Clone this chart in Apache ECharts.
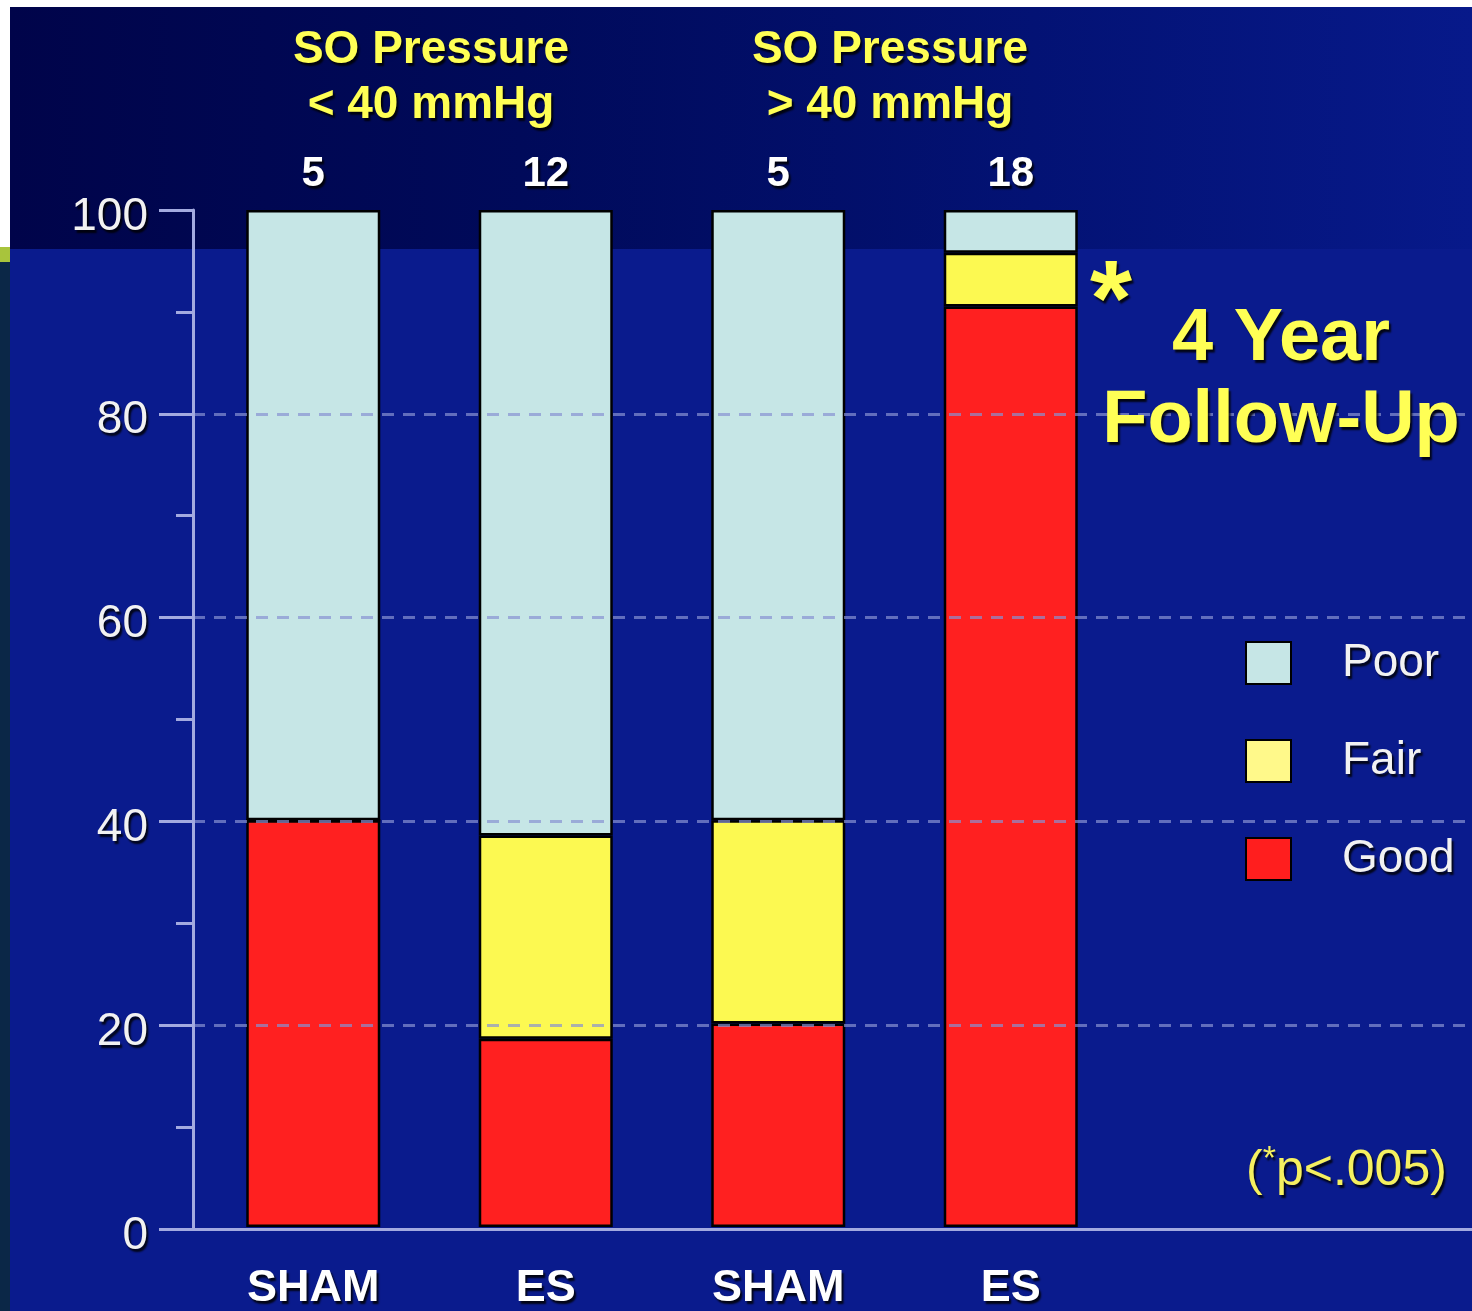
<!DOCTYPE html>
<html>
<head>
<meta charset="utf-8">
<script src="https://cdn.jsdelivr.net/npm/echarts@6/dist/echarts.min.js"></script>
<style>
html,body{margin:0;padding:0;background:#fff;}
#chart{width:1472px;height:1311px;}
</style>
</head>
<body>
<div id="chart"></div>
<script>
// ---- data ----
const categories = ['SHAM', 'ES', 'SHAM', 'ES'];
const groupSizes = ['5', '12', '5', '18'];
const good = [40, 18.5, 20, 90.5];
const fair = [0, 20, 20, 5.3];
const poor = [60, 61.5, 60, 4.2];
const seriesNames = ['Poor', 'Fair', 'Good'];
const groupTitles = ['SO Pressure\n< 40 mmHg', 'SO Pressure\n> 40 mmHg'];
const yMin = 0, yMax = 100, yInterval = 20;

// ---- styles ----
const FF = '"Liberation Sans", Arial, sans-serif';
const axisColor = '#A3AAE0';
const shadow = { textShadowColor: 'rgba(0,0,0,0.85)', textShadowBlur: 2, textShadowOffsetX: 2, textShadowOffsetY: 3 };
const colors = { Good: '#FF2020', Fair: '#FCF951', Poor: '#C6E6E6' };
const legendColors = { Good: '#FF1E1E', Fair: '#FFF98A', Poor: '#C6E6E6' };

const chart = echarts.init(document.getElementById('chart'));

function txt(x, y, text, size, color, weight, extra) {
  return Object.assign({
    type: 'text', x: x, y: y, z: 50,
    style: Object.assign({
      text: text, fill: color, font: weight + ' ' + size + 'px ' + FF,
      align: 'center', verticalAlign: 'middle'
    }, shadow, extra || {})
  });
}

const option = {
  backgroundColor: '#ffffff',
  animation: false,
  graphic: {
    elements: [
      { type: 'rect', z: -10, shape: { x: 10, y: 7, width: 1462, height: 243 },
        style: { fill: new echarts.graphic.LinearGradient(0, 0, 1, 0, [
          { offset: 0, color: '#00044A' }, { offset: 0.35, color: '#000A5A' },
          { offset: 0.7, color: '#031274' }, { offset: 1, color: '#07198A' }]) } },
      { type: 'rect', z: -10, shape: { x: 10, y: 249, width: 1462, height: 1062 }, style: { fill: '#0A1B8D' } },
      { type: 'rect', z: -10, shape: { x: 0, y: 247, width: 10, height: 15 }, style: { fill: '#A8C43C' } },
      { type: 'rect', z: -10, shape: { x: 0, y: 262, width: 10, height: 1049 }, style: { fill: '#0B2747' } },
      txt(431, 50, groupTitles[0].split('\n')[0], 46, '#FFFF55', 'bold'),
      txt(431, 105, groupTitles[0].split('\n')[1], 46, '#FFFF55', 'bold'),
      txt(890, 50, groupTitles[1].split('\n')[0], 46, '#FFFF55', 'bold'),
      txt(890, 105, groupTitles[1].split('\n')[1], 46, '#FFFF55', 'bold'),
      txt(1111, 305, '*', 108, '#FFFF55', 'bold'),
      txt(1281, 340, '4 Year', 74, '#FFFF55', 'bold'),
      txt(1281, 422, 'Follow-Up', 74, '#FFFF55', 'bold'),
      { type: 'text', x: 1246, y: 1171, z: 50,
        style: Object.assign({
          text: '{a|(}{s|*}{a|p<.005)}', align: 'left', verticalAlign: 'middle',
          rich: {
            a: { fontFamily: FF, fontSize: 50, fill: '#F5F060', color: '#F5F060', lineHeight: 56 },
            s: { fontFamily: FF, fontSize: 34, fill: '#F5F060', color: '#F5F060', lineHeight: 56, verticalAlign: 'top', padding: [0, 0, 18, 0] }
          }
        }, shadow) }
    ]
  },
  legend: {
    orient: 'vertical', left: 1245, top: 640, padding: 0,
    itemWidth: 45, itemHeight: 42, itemGap: 52,
    selectedMode: false,
    icon: 'rect',
    data: seriesNames.map(n => ({ name: n, itemStyle: { color: legendColors[n], borderColor: '#000', borderWidth: 2 } })),
    textStyle: Object.assign({ color: '#F2F2F2', fontFamily: FF, fontSize: 46, lineHeight: 42, padding: [0, 0, 0, 46] }, shadow)
  },
  grid: [
    { left: 197, width: 930, top: 210, height: 1019 },
    { left: 193, right: 0, top: 210, height: 1019 }
  ],
  xAxis: [
    { type: 'category', gridIndex: 0, data: categories,
      axisLine: { show: false }, axisTick: { show: false },
      axisLabel: Object.assign({ color: '#FFFFFF', fontFamily: FF, fontWeight: 'bold', fontSize: 45, margin: 39 }, shadow) },
    { type: 'category', gridIndex: 0, position: 'top', data: groupSizes,
      axisLine: { show: false }, axisTick: { show: false },
      axisLabel: Object.assign({ color: '#FFFFFF', fontFamily: FF, fontWeight: 'bold', fontSize: 42, margin: 15 }, shadow) },
    { type: 'value', gridIndex: 1, min: 0, max: 1, z: 10,
      axisLine: { show: true, onZero: false, lineStyle: { color: axisColor, width: 3 } },
      axisTick: { show: false }, axisLabel: { show: false }, splitLine: { show: false } }
  ],
  yAxis: [
    { type: 'value', gridIndex: 0, min: yMin, max: yMax, interval: yInterval, show: false },
    { type: 'value', gridIndex: 1, min: yMin, max: yMax, interval: yInterval, z: 10,
      axisLine: { show: true, lineStyle: { color: axisColor, width: 3 } },
      axisTick: { show: true, length: 34, lineStyle: { color: axisColor, width: 3 } },
      minorTick: { show: true, splitNumber: 2, length: 17, lineStyle: { color: axisColor, width: 3 } },
      axisLabel: Object.assign({ color: '#F2F2F2', fontFamily: FF, fontSize: 46, margin: 45, verticalAlign: 'top', lineHeight: 14 }, shadow),
      splitLine: { show: true, showMinLine: false, showMaxLine: false,
        lineStyle: { color: 'rgba(135,145,210,0.7)', width: 3, type: [12, 9] } } }
  ],
  series: [
    { name: 'Good', type: 'bar', stack: 'a', data: good, barWidth: 134, xAxisIndex: 0, yAxisIndex: 0,
      itemStyle: { color: colors.Good, borderColor: '#000', borderWidth: 2.5 } },
    { name: 'Fair', type: 'bar', stack: 'a', data: fair, barWidth: 134, xAxisIndex: 0, yAxisIndex: 0,
      itemStyle: { color: colors.Fair, borderColor: '#000', borderWidth: 2.5 } },
    { name: 'Poor', type: 'bar', stack: 'a', data: poor, barWidth: 134, xAxisIndex: 0, yAxisIndex: 0,
      itemStyle: { color: colors.Poor, borderColor: '#000', borderWidth: 2.5 } }
  ]
};
chart.setOption(option);
</script>
</body>
</html>
